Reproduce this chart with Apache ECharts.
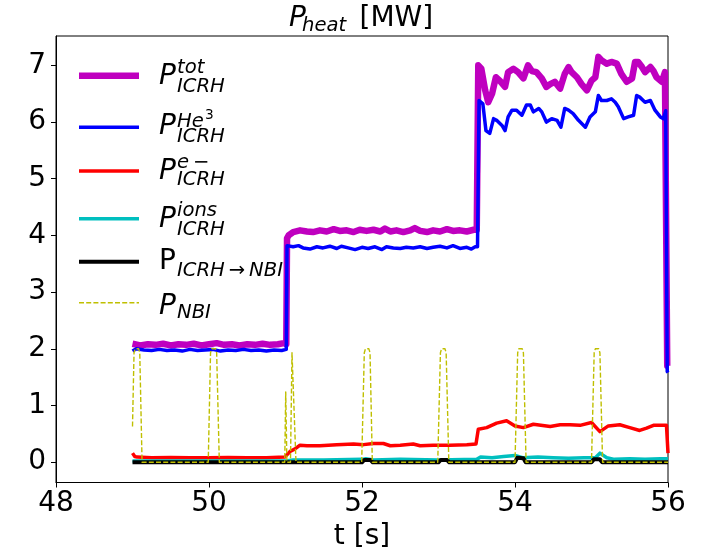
<!DOCTYPE html>
<html>
<head>
<meta charset="utf-8">
<script src="https://cdn.jsdelivr.net/npm/echarts@6/dist/echarts.min.js"></script>
<style>
  html, body { margin: 0; padding: 0; background: #fff; }
  #chart { width: 710px; height: 552px; }
</style>
</head>
<body>
<div id="chart"></div>
<script>
// Heating power traces [MW] versus time [s]

// Total ICRH power
const tTot = [
  49.00,49.10,49.20,49.30,49.40,49.50,49.60,49.70,49.80,49.90,
  50.00,50.10,50.20,50.30,50.40,50.50,50.60,50.70,50.80,50.90,
  50.98,51.01,51.02,
  51.04,51.10,51.19,51.28,51.36,51.45,51.54,51.63,51.71,51.80,
  51.89,51.97,52.06,52.15,52.24,52.30,52.37,52.45,52.54,52.63,
  52.69,52.76,52.85,52.93,53.02,53.11,53.19,53.28,53.37,53.46,
  53.50,
  53.52,53.56,53.61,53.65,53.70,53.75,53.80,53.87,53.91,53.98,
  54.04,54.11,54.17,54.22,54.28,54.35,54.41,54.46,54.52,54.59,
  54.65,54.70,54.74,54.81,54.87,54.94,55.00,55.05,55.09,55.13,
  55.20,55.26,55.33,55.39,55.46,55.53,55.57,55.61,55.66,55.70,
  55.77,55.81,55.85,55.92,55.96,55.98,55.99,56.00
];
const pTot = [
  2.09,2.06,2.08,2.07,2.09,2.06,2.08,2.07,2.09,2.06,
  2.08,2.10,2.07,2.08,2.06,2.08,2.07,2.09,2.07,2.08,
  2.10,2.08,3.95,
  4.00,4.06,4.09,4.07,4.06,4.09,4.07,4.11,4.08,4.09,
  4.06,4.10,4.08,4.10,4.07,4.12,4.07,4.09,4.06,4.09,
  4.13,4.08,4.06,4.09,4.07,4.11,4.08,4.09,4.07,4.10,
  4.10,
  7.00,6.94,6.56,6.35,6.50,6.79,6.73,6.62,6.88,6.94,
  6.88,6.77,7.00,6.90,6.88,6.77,6.62,6.67,6.71,6.59,
  6.85,6.97,6.88,6.79,6.67,6.56,6.73,6.79,7.15,7.09,
  7.03,7.06,7.03,6.85,6.71,6.77,7.06,7.06,6.97,6.88,
  6.97,6.90,6.79,6.71,6.88,6.85,1.70,1.70
];

// ICRH power to He3 minority
const tHe3 = [
  49.00,49.05,49.15,49.25,49.35,49.45,49.55,49.65,49.75,49.85,
  49.95,50.05,50.15,50.25,50.35,50.45,50.55,50.65,50.75,50.85,
  50.95,51.01,51.02,
  51.04,51.10,51.17,51.23,51.32,51.41,51.49,51.58,51.67,51.73,
  51.82,51.91,52.00,52.08,52.17,52.26,52.32,52.41,52.50,52.58,
  52.67,52.76,52.85,52.93,53.02,53.11,53.19,53.28,53.37,53.43,
  53.48,53.51,
  53.53,53.58,53.62,53.67,53.72,53.76,53.83,53.87,53.91,53.96,
  54.02,54.09,54.15,54.20,54.24,54.31,54.35,54.41,54.48,54.55,
  54.60,54.65,54.70,54.76,54.83,54.92,54.98,55.05,55.09,55.13,
  55.20,55.26,55.31,55.35,55.42,55.48,55.55,55.59,55.63,55.70,
  55.77,55.83,55.90,55.94,55.97,55.99,56.00
];
const pHe3 = [
  1.96,2.00,1.98,1.97,1.99,1.97,1.98,1.96,1.99,1.97,
  1.98,1.99,1.96,1.98,1.97,1.99,1.97,1.98,1.96,1.98,
  1.97,1.99,3.82,
  3.84,3.80,3.82,3.78,3.76,3.80,3.78,3.81,3.77,3.81,
  3.78,3.75,3.79,3.77,3.80,3.75,3.80,3.78,3.77,3.79,
  3.78,3.80,3.77,3.79,3.81,3.78,3.82,3.77,3.79,3.76,
  3.80,3.80,
  6.38,6.32,5.85,5.80,6.06,6.03,5.94,5.85,6.09,6.21,
  6.21,6.12,6.30,6.30,6.18,6.24,6.18,6.00,6.06,6.03,
  5.91,6.24,6.21,6.15,6.03,5.91,6.09,6.18,6.47,6.38,
  6.38,6.41,6.35,6.27,6.06,6.09,6.12,6.47,6.44,6.35,
  6.38,6.21,6.09,6.06,6.20,1.60,1.58
];

// ICRH power to electrons
const tEl = [
  49.00,49.03,49.06,49.25,49.50,49.75,50.00,50.25,50.50,50.75,
  50.99,51.06,51.12,51.19,51.28,51.45,51.67,51.89,52.02,52.15,
  52.28,52.37,52.50,52.67,52.76,52.93,53.15,53.37,53.49,53.52,
  53.63,53.76,53.89,54.00,54.11,54.24,54.46,54.59,54.72,54.85,
  55.00,55.11,55.22,55.37,55.50,55.63,55.72,55.81,55.98,56.00
];
const pEl = [
  0.16,0.10,0.09,0.08,0.085,0.08,0.08,0.085,0.08,0.08,
  0.09,0.19,0.23,0.30,0.29,0.29,0.31,0.32,0.31,0.33,
  0.33,0.29,0.30,0.32,0.29,0.30,0.30,0.31,0.32,0.58,
  0.61,0.69,0.73,0.64,0.61,0.67,0.63,0.66,0.66,0.65,
  0.70,0.54,0.64,0.66,0.61,0.56,0.60,0.65,0.65,0.16
];

// ICRH power to bulk ions
const tIons = [
  49.00,49.50,50.00,50.50,51.00,51.10,51.50,52.00,52.05,52.15,
  52.50,53.00,53.50,53.55,53.70,53.85,54.00,54.10,54.30,54.50,
  54.70,54.90,55.05,55.11,55.20,55.30,55.50,55.70,55.90,56.00
];
const pIons = [
  0.02,0.02,0.02,0.02,0.02,0.04,0.04,0.05,0.06,0.04,
  0.05,0.04,0.05,0.09,0.08,0.10,0.12,0.08,0.09,0.08,
  0.07,0.08,0.08,0.16,0.08,0.05,0.06,0.05,0.06,0.06
];

// ICRH power coupled to NBI fast ions
const tToNbi = [
  49.00,52.00,52.03,52.11,52.14,53.00,53.03,53.11,53.14,
  54.00,54.03,54.11,54.14,55.00,55.03,55.11,55.14,56.00
];
const pToNbi = [
  0,0,0.04,0.04,0,0,0.04,0.04,0,
  0,0.08,0.07,0,0,0.05,0.05,0,0
];

// NBI blips
const tNbi = [
  49.00,49.02,49.035,49.08,49.095,49.125,
  49.99,50.02,50.035,50.085,50.10,50.135,
  50.99,51.003,51.018,
  51.065,51.085,51.095,51.105,51.137,
  51.996,52.03,52.045,52.09,52.105,52.135,
  52.99,53.025,53.04,53.085,53.10,53.135,
  54.00,54.035,54.05,54.095,54.11,54.145,
  55.00,55.035,55.05,55.095,55.11,55.145,
  56.00
];
const pNbi = [
  0.63,1.93,2.00,2.00,1.93,0,
  0,1.93,2.00,2.00,1.93,0,
  0,1.24,0,
  0,1.93,1.96,1.93,0,
  0,1.93,2.00,2.00,1.93,0,
  0,1.93,2.00,2.00,1.93,0,
  0,1.93,2.00,2.00,1.93,0,
  0,1.93,2.00,2.00,1.93,0,
  0
];

const xTicks = [48, 50, 52, 54, 56];
const yTicks = [0, 1, 2, 3, 4, 5, 6, 7];

const FONT = 'DejaVu Sans';
const zip = (ts, vs) => ts.map((t, i) => [t, vs[i]]);

const COL = {
  tot: '#bf00bf', he3: '#0000ff', el: '#ff0000',
  ions: '#00bfbf', toNbi: '#000000', nbi: '#bfbf00'
};

function lineSeries(name, ts, vs, color, width, dashed) {
  return {
    name: name,
    type: 'line',
    data: zip(ts, vs),
    symbol: 'none',
    showSymbol: false,
    animation: false,
    clip: true,
    lineStyle: {
      color: color,
      width: width,
      type: dashed ? [5, 2.2] : 'solid',
      join: 'round',
      cap: 'butt'
    },
    itemStyle: { color: color },
    emphasis: { disabled: true }
  };
}

// Legend drawn as graphic items: line sample + stacked super/subscript label
function legendEntry(y, color, width, dashed, parts) {
  const items = [{
    type: 'line',
    z: 100,
    shape: { x1: 79, y1: y, x2: 139, y2: y },
    style: { stroke: color, lineWidth: width, lineDash: dashed ? [5, 2.2] : null }
  }];
  parts.forEach(p => {
    items.push({
      type: 'text',
      z: 100,
      x: p.x, y: p.y,
      style: {
        text: p.text,
        fill: '#000',
        font: (p.italic === false ? '' : 'italic ') + p.size + 'px "' + FONT + '"',
        textAlign: 'left',
        verticalAlign: 'middle'
      }
    });
  });
  return items;
}

const BIG = 28, SM = 19.6, TINY = 13.7;

const legendGraphics = [].concat(
  legendEntry(75.7, COL.tot, 6.5, false, [
    { text: 'P', x: 159, y: 77, size: BIG },
    { text: 'tot', x: 177, y: 68.2, size: SM },
    { text: 'ICRH', x: 177, y: 86.5, size: SM }
  ]),
  legendEntry(127.3, COL.he3, 3.5, false, [
    { text: 'P', x: 159, y: 127, size: BIG },
    { text: 'He', x: 177, y: 121.5, size: SM },
    { text: '3', x: 205, y: 115.3, size: TINY, italic: false },
    { text: 'ICRH', x: 177, y: 136.5, size: SM }
  ]),
  legendEntry(171, COL.el, 3.5, false, [
    { text: 'P', x: 159, y: 172, size: BIG },
    { text: 'e\u2009\u2212', x: 177, y: 163.2, size: SM },
    { text: 'ICRH', x: 177, y: 180, size: SM }
  ]),
  legendEntry(218.7, COL.ions, 3.5, false, [
    { text: 'P', x: 159, y: 220, size: BIG },
    { text: 'ions', x: 177, y: 211.2, size: SM },
    { text: 'ICRH', x: 177, y: 229.5, size: SM }
  ]),
  legendEntry(261.7, COL.toNbi, 4, false, [
    { text: 'P', x: 159, y: 262, size: BIG, italic: false },
    { text: 'ICRH\u2009\u2192\u2009NBI', x: 177, y: 270.5, size: SM }
  ]),
  legendEntry(302.7, COL.nbi, 1.4, true, [
    { text: 'P', x: 159, y: 307, size: BIG },
    { text: 'NBI', x: 177, y: 313, size: SM }
  ])
);

// Title  P_heat [MW]
const titleGraphics = [
  { type: 'text', z: 100, x: 289, y: 18.3, style: { text: 'P', fill: '#000', font: 'italic 28px "' + FONT + '"', verticalAlign: 'middle' } },
  { type: 'text', z: 100, x: 302, y: 26.2, style: { text: 'heat', fill: '#000', font: 'italic 19.6px "' + FONT + '"', verticalAlign: 'middle' } },
  { type: 'text', z: 100, x: 359.5, y: 18.3, style: { text: '[MW]', fill: '#000', font: '28px "' + FONT + '"', verticalAlign: 'middle' } }
];

const chart = echarts.init(document.getElementById('chart'), null, { renderer: 'canvas' });

chart.setOption({
  backgroundColor: '#ffffff',
  animation: false,
  textStyle: { fontFamily: FONT },
  grid: {
    left: 56, right: 42, top: 36, bottom: 69.5,
    show: true, borderColor: '#000', borderWidth: 1,
    backgroundColor: 'transparent',
    containLabel: false,
    outerBoundsMode: 'none'
  },
  xAxis: {
    type: 'value',
    min: 48, max: 56, interval: 2,
    name: 't [s]',
    nameLocation: 'middle',
    nameGap: 46,
    nameTextStyle: { fontSize: 28, color: '#000', fontFamily: FONT, verticalAlign: 'middle' },
    axisLine: { show: true, onZero: false, lineStyle: { color: '#000', width: 1 } },
    axisTick: { show: true, inside: false, length: 5, lineStyle: { color: '#000', width: 1 } },
    axisLabel: {
      fontSize: 28, color: '#000', fontFamily: FONT, margin: 7,
      customValues: xTicks,
      formatter: v => String(v)
    },
    splitLine: { show: false }
  },
  yAxis: {
    type: 'value',
    min: -0.358, max: 7.518,
    axisLine: { show: true, onZero: false, lineStyle: { color: '#000', width: 1 } },
    axisTick: { show: true, inside: false, length: 5, customValues: yTicks, lineStyle: { color: '#000', width: 1 } },
    axisLabel: {
      fontSize: 28, color: '#000', fontFamily: FONT, margin: 10,
      customValues: yTicks,
      formatter: v => String(Math.round(v))
    },
    splitLine: { show: false }
  },
  series: [
    lineSeries('P_ICRH^tot', tTot, pTot, COL.tot, 6.5, false),
    lineSeries('P_ICRH^He3', tHe3, pHe3, COL.he3, 3.5, false),
    lineSeries('P_ICRH^e-', tEl, pEl, COL.el, 3.5, false),
    lineSeries('P_ICRH^ions', tIons, pIons, COL.ions, 3.5, false),
    lineSeries('P_ICRH->NBI', tToNbi, pToNbi, COL.toNbi, 4, false),
    lineSeries('P_NBI', tNbi, pNbi, COL.nbi, 1.4, true)
  ],
  graphic: titleGraphics.concat(legendGraphics)
});
</script>
</body>
</html>
